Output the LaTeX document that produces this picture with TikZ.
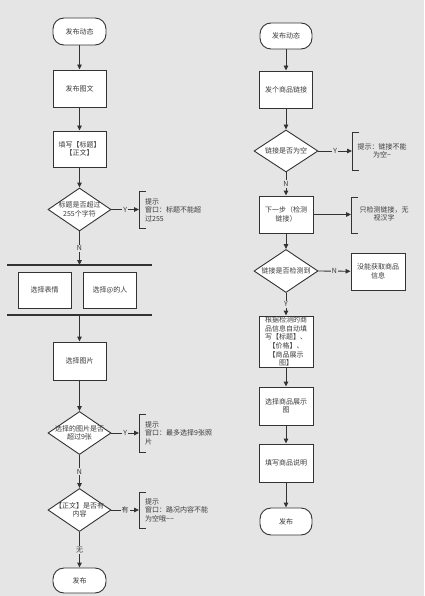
\documentclass[tikz,border=0pt]{standalone}
\usepackage{fontspec}
\setmainfont{Noto Sans CJK SC}
\usetikzlibrary{arrows.meta,shapes.geometric}
\definecolor{bg}{HTML}{E5E5E5}
\definecolor{ln}{HTML}{333333}
\definecolor{tx}{HTML}{3A3A3A}
\tikzset{
  fnt/.style={font=\fontsize{7}{8.6}\selectfont, text=tx},
  base/.style={draw=ln, line width=0.9pt, fill=white, inner sep=0pt, align=center, fnt},
  box/.style={base, rectangle, minimum width=53pt, minimum height=37pt},
  term/.style={base, rectangle, rounded corners=11pt, minimum width=53pt, minimum height=27pt},
  dia/.style={base, diamond, minimum width=63pt, minimum height=43pt},
  dtext/.style={fnt, align=center, inner sep=0pt},
  arr/.style={draw=ln, line width=0.9pt, -{Triangle[length=5pt,width=4.5pt]}},
  lab/.style={fill=bg, inner sep=1pt, fnt},
  hinttext/.style={fnt, inner sep=0pt},
  brk/.style={draw=ln, line width=0.9pt},
  bar/.style={draw=ln, line width=1.1pt}
}
\begin{document}
\begin{tikzpicture}[x=1pt,y=-1pt]
\fill[bg] (0,0) rectangle (424,596);
\useasboundingbox (0,0) rectangle (424,596);

% ---------- left column ----------
\node[term] (s1) at (79.5,31.5) {发布动态};
\node[box] (b1) at (79.5,88.5) {发布图文};
\node[box, minimum height=36pt] (b2) at (79.5,149) {填写【标题】\\【正文】};
\node[dia] (d1) at (79.5,209.5) {};
\node[dtext] (d1t) at (d1) {标题是否超过\\255个字符};
\coordinate (k1) at (139,209.5);
\draw[brk] (146,191) -- (139,191) -- (139,228) -- (146,228);
\node[hinttext, anchor=west, align=left] (h1) at (145,210) {提示\\窗口：标题不能超\\过255};

\coordinate (j1) at (79.5,265);
\coordinate (L1a) at (7,265);
\coordinate (L1b) at (152,265);
\draw[bar] (L1a) -- (L1b);
\node[box, minimum height=36pt] (p1) at (44.5,290) {选择表情};
\node[box, minimum height=36pt] (p2) at (110,290) {选择@的人};
\coordinate (j2) at (79.5,315);
\coordinate (L2a) at (7,315);
\coordinate (L2b) at (152,315);
\draw[bar] (L2a) -- (L2b);

\node[box, minimum height=38pt] (b3) at (79.5,361) {选择图片};
\node[dia] (d2) at (79.5,433) {};
\node[dtext] (d2t) at (d2) {选择的图片是否\\超过9张};
\coordinate (k2) at (139,433);
\draw[brk] (146,414) -- (139,414) -- (139,452) -- (146,452);
\node[hinttext, anchor=west, align=left] (h2) at (145,433) {提示\\窗口：最多选择9张照\\片};

\node[dia] (d3) at (79.5,510) {};
\node[dtext] (d3t) at (d3) {【正文】是否有\\内容};
\coordinate (k3) at (139,510);
\draw[brk] (146,492) -- (139,492) -- (139,528) -- (146,528);
\node[hinttext, anchor=west, align=left] (h3) at (145,510) {提示\\窗口：路况内容不能\\为空哦\textasciitilde\textasciitilde};

\node[term, minimum height=25pt] (e1) at (79.5,580.5) {发布};

\draw[arr] (s1) -- (b1);
\draw[arr] (b1) -- (b2);
\draw[arr] (b2) -- (d1.north);
\draw[arr] (d1.east) -- node[lab] {Y} (k1);
\draw[arr] (d1.south) -- node[lab] {N} (j1);
\draw[arr] (j2) -- (b3);
\draw[arr] (b3) -- (d2.north);
\draw[arr] (d2.east) -- node[lab] {Y} (k2);
\draw[arr] (d2.south) -- node[lab] {N} (d3.north);
\draw[arr] (d3.east) -- node[lab] {有} (k3);
\draw[arr] (d3.south) -- node[lab] {无} (e1);

% ---------- right column ----------
\node[term, minimum width=52pt, minimum height=26pt] (s2) at (286,36) {发布动态};
\node[box] (c1) at (286,89.5) {发个商品链接};
\node[dia, minimum width=64pt, minimum height=42pt] (rd1) at (286,151) {};
\node[dtext] (rd1t) at (rd1) {链接是否为空};
\coordinate (k4) at (352,151);
\draw[brk] (359,132) -- (352,132) -- (352,170) -- (359,170);
\node[hinttext, align=center] (h4) at (382,151) {提示：链接不能\\为空\textasciitilde};

\node[box, minimum width=54pt] (c2) at (286,214.5) {下一步（检测\\链接）};
\coordinate (k5) at (351,214.5);
\draw[brk] (358,197) -- (351,197) -- (351,233) -- (358,233);
\node[hinttext, align=center] (h5) at (384,214) {只检测链接，无\\视汉字};

\node[dia, minimum width=64pt] (rd2) at (286,271) {};
\node[dtext] (rd2t) at (rd2) {链接是否检测到};
\node[box, minimum width=54pt] (c3) at (378,271.5) {没能获取商品\\信息};

\node[box, minimum width=54pt, minimum height=51pt] (c4) at (286,341.5) {根据检测的商\\品信息自动填\\写【标题】、\\【价格】、\\【商品展示\\图】};
\node[box, minimum width=54pt, minimum height=38pt] (c5) at (286,406) {选择商品展示\\图};
\node[box, minimum width=54pt, minimum height=38pt] (c6) at (286,463) {填写商品说明};
\node[term, minimum width=52pt] (e2) at (286,521.5) {发布};

\draw[arr] (s2) -- (c1);
\draw[arr] (c1) -- (rd1.north);
\draw[arr] (rd1.east) -- node[lab] {Y} (k4);
\draw[arr] (rd1.south) -- node[lab] {N} (c2);
\draw[arr] (c2.east) -- (k5);
\draw[arr] (c2) -- (rd2.north);
\draw[arr] (rd2.east) -- node[lab] {N} (c3);
\draw[arr] (rd2.south) -- node[lab] {Y} (c4);
\draw[arr] (c4) -- (c5);
\draw[arr] (c5) -- (c6);
\draw[arr] (c6) -- (e2);
\end{tikzpicture}
\end{document}
